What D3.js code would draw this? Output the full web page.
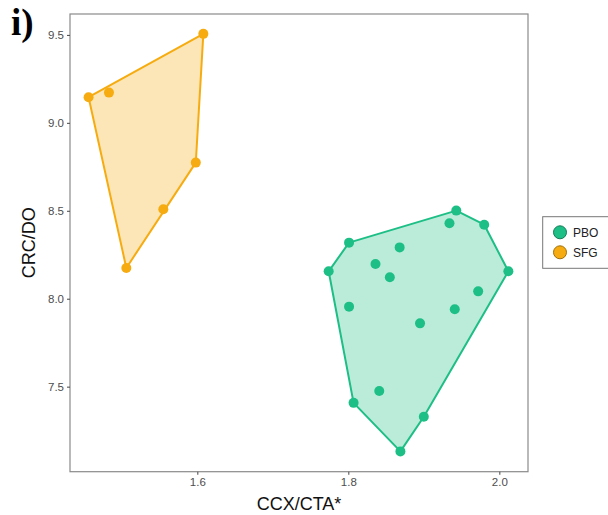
<!DOCTYPE html>
<html><head><meta charset="utf-8">
<script src="https://cdn.jsdelivr.net/npm/d3@7"></script>
<style>body{margin:0;background:#fff}svg{display:block}</style>
</head><body>
<script>
const groups = ["PBO", "SFG"];
const colors = ["#1dbf86", "#f6ac10"];
const pboX = [1.943, 1.934, 1.980, 1.801, 1.868, 1.774, 1.836, 1.855, 2.012, 1.972, 1.801, 1.941, 1.895, 1.841, 1.807, 1.900, 1.869];
const pboY = [8.501, 8.429, 8.421, 8.319, 8.292, 8.156, 8.197, 8.122, 8.156, 8.042, 7.955, 7.940, 7.860, 7.475, 7.408, 7.329, 7.132];
const sfgX = [1.456, 1.483, 1.608, 1.598, 1.555, 1.506];
const sfgY = [9.146, 9.172, 9.506, 8.774, 8.509, 8.175];
const xTicks = [1.6, 1.8, 2.0];
const yTicks = [7.5, 8.0, 8.5, 9.0, 9.5];

const W = 608, H = 515;
const L = 70, R = 528, T = 14, B = 471.7;
const svg = d3.select("body").append("svg").attr("width", W).attr("height", H);
const x = d3.scaleLinear().domain([1.4314, 2.038]).range([L, R]);
const y = d3.scaleLinear().domain([7.0165, 9.619]).range([B, T]);

const data = [
  pboX.map((v, i) => [v, pboY[i]]),
  sfgX.map((v, i) => [v, sfgY[i]])
];

// hulls
data.forEach((pts, gi) => {
  const hull = d3.polygonHull(pts.map(p => [x(p[0]), y(p[1])]));
  svg.append("path")
    .attr("d", "M" + hull.map(p => p.join(",")).join("L") + "Z")
    .attr("fill", colors[gi]).attr("fill-opacity", 0.3)
    .attr("stroke", colors[gi]).attr("stroke-width", 2).attr("stroke-linejoin", "round");
});
data.forEach((pts, gi) => {
  svg.append("g").selectAll("circle").data(pts).join("circle")
    .attr("cx", d => x(d[0])).attr("cy", d => y(d[1])).attr("r", 5)
    .attr("fill", colors[gi]);
});

// panel border
svg.append("rect").attr("x", L).attr("y", T).attr("width", R - L).attr("height", B - T)
  .attr("fill", "none").attr("stroke", "#8a8a8a").attr("stroke-width", 1.2);

// axes
const xa = svg.append("g").attr("transform", `translate(0,${B})`)
  .call(d3.axisBottom(x).tickValues(xTicks).tickFormat(d3.format(".1f")).tickSize(3).tickPadding(3));
const ya = svg.append("g").attr("transform", `translate(${L},0)`)
  .call(d3.axisLeft(y).tickValues(yTicks).tickFormat(d3.format(".1f")).tickSize(3).tickPadding(3));
[xa, ya].forEach(a => {
  a.select(".domain").remove();
  a.selectAll("line").attr("stroke", "#555").attr("stroke-width", 1.1);
  a.selectAll("text").attr("fill", "#4d4d4d").attr("font-size", 11.5)
    .attr("font-family", "Liberation Sans, Arial, sans-serif");
});

// titles
svg.append("text").attr("x", (L + R) / 2).attr("y", 510).attr("text-anchor", "middle")
  .attr("font-family", "Liberation Sans, Arial, sans-serif").attr("font-size", 18).attr("fill", "#111")
  .text("CCX/CTA*");
svg.append("text").attr("transform", `translate(35,${(T + B) / 2}) rotate(-90)`).attr("text-anchor", "middle")
  .attr("font-family", "Liberation Sans, Arial, sans-serif").attr("font-size", 18).attr("fill", "#111")
  .text("CRC/DO");
svg.append("text").attr("x", 11).attr("y", 35)
  .attr("font-family", "Liberation Serif, 'Times New Roman', serif").attr("font-weight", "bold")
  .attr("font-size", 37).attr("fill", "#000").text("i)");

// legend
const lg = svg.append("g");
lg.append("rect").attr("x", 542.7).attr("y", 216.7).attr("width", 80).attr("height", 51.6)
  .attr("fill", "#fff").attr("stroke", "#777").attr("stroke-width", 1);
groups.forEach((g, i) => {
  lg.append("circle").attr("cx", 560).attr("cy", 232.3 + i * 20).attr("r", 6.5)
    .attr("fill", colors[i]).attr("stroke", d3.color(colors[i]).darker(1.2)).attr("stroke-width", 1);
  lg.append("text").attr("x", 573).attr("y", 232.3 + i * 20 + 4.3)
    .attr("font-family", "Liberation Sans, Arial, sans-serif").attr("font-size", 12).attr("fill", "#222")
    .text(g);
});
</script>
</body></html>
